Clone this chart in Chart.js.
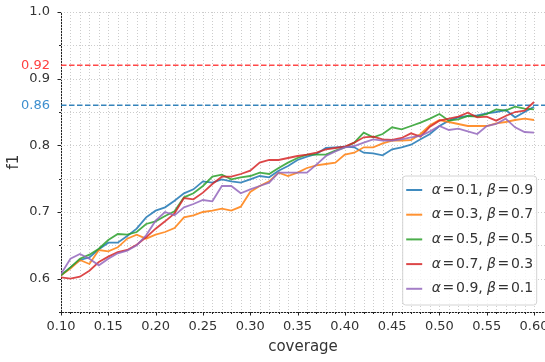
<!DOCTYPE html>
<html>
<head>
<meta charset="utf-8">
<script src="https://cdn.jsdelivr.net/npm/chart.js@4.4.1/dist/chart.umd.min.js"></script>
<style>
  html, body { margin: 0; padding: 0; background: #fff; }
</style>
</head>
<body>
<canvas id="f1Chart" width="545" height="362"></canvas>
<script>
// coverage steps (x) and f1 per (alpha, beta) setting
const coverage = [
  0.10, 0.11, 0.12, 0.13, 0.14, 0.15, 0.16, 0.17, 0.18, 0.19,
  0.20, 0.21, 0.22, 0.23, 0.24, 0.25, 0.26, 0.27, 0.28, 0.29,
  0.30, 0.31, 0.32, 0.33, 0.34, 0.35, 0.36, 0.37, 0.38, 0.39,
  0.40, 0.41, 0.42, 0.43, 0.44, 0.45, 0.46, 0.47, 0.48, 0.49,
  0.50, 0.51, 0.52, 0.53, 0.54, 0.55, 0.56, 0.57, 0.58, 0.59,
  0.60
];
const f1_a01 = [
  0.605, 0.617, 0.628, 0.632, 0.644, 0.654, 0.654, 0.664, 0.675, 0.692,
  0.702, 0.707, 0.717, 0.728, 0.734, 0.746, 0.744, 0.749, 0.746, 0.744,
  0.749, 0.754, 0.752, 0.762, 0.769, 0.778, 0.783, 0.787, 0.796, 0.797,
  0.798, 0.797, 0.789, 0.788, 0.785, 0.794, 0.797, 0.801, 0.809, 0.817,
  0.829, 0.837, 0.842, 0.844, 0.845, 0.848, 0.850, 0.853, 0.842, 0.850,
  0.858
];
const f1_a03 = [
  0.605, 0.615, 0.628, 0.622, 0.643, 0.641, 0.647, 0.660, 0.666, 0.660,
  0.666, 0.670, 0.676, 0.692, 0.695, 0.700, 0.702, 0.705, 0.702, 0.708,
  0.730, 0.739, 0.746, 0.759, 0.754, 0.759, 0.766, 0.770, 0.772, 0.774,
  0.786, 0.789, 0.797, 0.797, 0.803, 0.807, 0.807, 0.808, 0.817, 0.830,
  0.838, 0.835, 0.832, 0.829, 0.829, 0.829, 0.833, 0.835, 0.838, 0.840,
  0.838
];
const f1_a05 = [
  0.605, 0.617, 0.630, 0.636, 0.645, 0.658, 0.667, 0.666, 0.670, 0.682,
  0.686, 0.694, 0.701, 0.722, 0.728, 0.739, 0.753, 0.756, 0.749, 0.752,
  0.754, 0.759, 0.757, 0.766, 0.774, 0.781, 0.786, 0.786, 0.786, 0.792,
  0.797, 0.804, 0.819, 0.812, 0.817, 0.827, 0.824, 0.829, 0.834, 0.840,
  0.847, 0.837, 0.839, 0.844, 0.843, 0.847, 0.854, 0.852, 0.858, 0.855,
  0.854
];
const f1_a07 = [
  0.602, 0.600, 0.603, 0.612, 0.625, 0.633, 0.640, 0.643, 0.651, 0.662,
  0.675, 0.686, 0.698, 0.721, 0.719, 0.729, 0.742, 0.753, 0.753, 0.757,
  0.762, 0.774, 0.778, 0.778, 0.781, 0.784, 0.786, 0.789, 0.794, 0.796,
  0.798, 0.804, 0.812, 0.813, 0.809, 0.808, 0.811, 0.818, 0.813, 0.828,
  0.837, 0.840, 0.843, 0.849, 0.842, 0.843, 0.837, 0.844, 0.850, 0.852,
  0.865
];
const f1_a09 = [
  0.607, 0.630, 0.637, 0.630, 0.620, 0.630, 0.638, 0.642, 0.650, 0.665,
  0.687, 0.700, 0.695, 0.707, 0.712, 0.718, 0.716, 0.739, 0.739, 0.728,
  0.734, 0.739, 0.744, 0.759, 0.759, 0.759, 0.759, 0.771, 0.784, 0.791,
  0.797, 0.799, 0.804, 0.809, 0.807, 0.807, 0.809, 0.812, 0.814, 0.821,
  0.829, 0.823, 0.825, 0.821, 0.817, 0.829, 0.832, 0.840, 0.827, 0.820,
  0.819
];
const seriesLabels = ['α=0.1, β=0.9', 'α=0.3, β=0.7', 'α=0.5, β=0.5', 'α=0.7, β=0.3', 'α=0.9, β=0.1'];

// horizontal reference levels
const refLevels = [0.92, 0.86];

// tick positions
const xMajorTicks = [0.10, 0.15, 0.20, 0.25, 0.30, 0.35, 0.40, 0.45, 0.50, 0.55, 0.60];
const yMajorTicks = [0.6, 0.7, 0.8, 0.9, 1.0];
const yMinorTicks = [0.55, 0.65, 0.75, 0.85, 0.95];

const seriesColors = [
  'rgba(31,119,180,0.85)', 'rgba(255,127,14,0.85)', 'rgba(44,160,44,0.85)',
  'rgba(214,39,40,0.85)', 'rgba(148,103,189,0.85)'
];
const refColors = ['rgba(255,40,40,0.85)', 'rgba(31,119,180,0.9)'];
const refLabelColors = ['#ff4040', '#3d8fcf'];
const textColor = '#333';
const FONT = '"DejaVu Sans", "Liberation Sans", sans-serif';

const near = (a, b) => Math.abs(a - b) < 1e-6;
const isIn = (arr, v) => arr.some(m => near(m, v));

// dotted grid, reference lines and tick marks
const axisDecor = {
  id: 'axisDecor',
  beforeDatasetsDraw(chart) {
    const { ctx, chartArea: a, scales: { x, y } } = chart;
    ctx.save();
    ctx.lineWidth = 1;
    ctx.strokeStyle = '#cccccc';
    ctx.setLineDash([1, 2]);
    coverage.forEach(v => {
      const px = Math.round(x.getPixelForValue(v)) + 0.5;
      ctx.beginPath(); ctx.moveTo(px, a.top); ctx.lineTo(px, a.bottom); ctx.stroke();
    });
    yMajorTicks.concat(yMinorTicks).forEach(v => {
      const py = Math.round(y.getPixelForValue(v)) + 0.5;
      ctx.beginPath(); ctx.moveTo(a.left, py); ctx.lineTo(a.right, py); ctx.stroke();
    });
    ctx.lineWidth = 1.5;
    ctx.setLineDash([5.5, 2.5]);
    refLevels.forEach((v, i) => {
      const py = y.getPixelForValue(v);
      ctx.strokeStyle = refColors[i];
      ctx.beginPath(); ctx.moveTo(a.left, py); ctx.lineTo(a.right, py); ctx.stroke();
    });
    ctx.restore();
  },
  afterDraw(chart) {
    const { ctx, chartArea: a, scales: { x, y } } = chart;
    ctx.save();
    ctx.strokeStyle = '#222';
    ctx.lineWidth = 1;
    coverage.forEach(v => {
      const px = Math.round(x.getPixelForValue(v)) + 0.5;
      const len = isIn(xMajorTicks, v) ? 3.5 : 2;
      ctx.beginPath(); ctx.moveTo(px, a.bottom); ctx.lineTo(px, a.bottom + len); ctx.stroke();
    });
    yMajorTicks.concat(yMinorTicks).forEach(v => {
      const py = Math.round(y.getPixelForValue(v)) + 0.5;
      const len = isIn(yMajorTicks, v) ? 3.5 : 2;
      ctx.beginPath(); ctx.moveTo(a.left - len, py); ctx.lineTo(a.left, py); ctx.stroke();
    });
    ctx.restore();
  }
};

// legend box in the lower right corner of the plot
function drawMathLabel(ctx, text, x, y, fs) {
  const upright = fs + 'px ' + FONT;
  const italic = 'italic ' + fs + 'px ' + FONT;
  let cx = x;
  for (const ch of text) {
    if (ch === ' ') { cx += fs * 0.3; continue; }
    if (ch === '=') {
      cx += fs * 0.12;
      ctx.font = upright;
      ctx.fillText(ch, cx, y);
      cx += ctx.measureText(ch).width + fs * 0.12;
      continue;
    }
    ctx.font = /[α-ω]/.test(ch) ? italic : upright;
    ctx.fillText(ch, cx, y);
    cx += ctx.measureText(ch).width;
  }
}

const cornerLegend = {
  id: 'cornerLegend',
  afterDraw(chart) {
    const { ctx, chartArea: a } = chart;
    const sets = chart.data.datasets;
    const fs = 14, rowH = 24.7, boxW = 134, boxH = 129;
    const bx = a.right - 8.3 - boxW;
    const by = a.bottom - 7 - boxH;
    const r = 3;
    ctx.save();
    ctx.beginPath();
    ctx.moveTo(bx + r, by);
    ctx.arcTo(bx + boxW, by, bx + boxW, by + boxH, r);
    ctx.arcTo(bx + boxW, by + boxH, bx, by + boxH, r);
    ctx.arcTo(bx, by + boxH, bx, by, r);
    ctx.arcTo(bx, by, bx + boxW, by, r);
    ctx.closePath();
    ctx.fillStyle = 'rgba(255,255,255,0.8)';
    ctx.fill();
    ctx.strokeStyle = '#d4d4d4';
    ctx.lineWidth = 1;
    ctx.stroke();
    ctx.textBaseline = 'middle';
    ctx.fillStyle = textColor;
    sets.forEach((ds, i) => {
      const cy = by + 14 + i * rowH;
      ctx.strokeStyle = ds.borderColor;
      ctx.lineWidth = 2;
      ctx.beginPath(); ctx.moveTo(bx + 3.5, cy); ctx.lineTo(bx + 19.5, cy); ctx.stroke();
      ctx.fillStyle = textColor;
      drawMathLabel(ctx, ds.label, bx + 29, cy, fs);
    });
    ctx.restore();
  }
};

const allSeries = [f1_a01, f1_a03, f1_a05, f1_a07, f1_a09];
const datasets = allSeries.map((vals, i) => ({
  label: seriesLabels[i],
  data: vals.map((v, j) => ({ x: coverage[j], y: v })),
  borderColor: seriesColors[i],
  borderWidth: 1.8,
  pointRadius: 0,
  fill: false,
  tension: 0,
  order: allSeries.length - 1 - i
}));

new Chart(document.getElementById('f1Chart'), {
  type: 'line',
  data: { datasets },
  plugins: [axisDecor, cornerLegend],
  options: {
    responsive: false,
    animation: false,
    devicePixelRatio: 1,
    layout: { padding: { top: 12, right: 0, bottom: 0, left: 0 } },
    plugins: { legend: { display: false }, tooltip: { enabled: false } },
    scales: {
      x: {
        type: 'linear',
        min: 0.10,
        max: 0.6116,
        grid: { display: false, drawTicks: false },
        border: { display: true, color: '#222', width: 1 },
        afterBuildTicks: s => { s.ticks = coverage.map(v => ({ value: v })); },
        afterFit: s => { s.height = 50; s.paddingLeft = 0; s.paddingRight = 0; },
        ticks: {
          autoSkip: false,
          maxRotation: 0,
          padding: 7,
          color: textColor,
          font: { family: FONT, size: 13 },
          callback: v => isIn(xMajorTicks, v) ? v.toFixed(2) : ''
        },
        title: {
          display: true,
          text: 'coverage',
          color: textColor,
          font: { family: FONT, size: 15 },
          padding: { top: 0, bottom: 6 }
        }
      },
      y: {
        type: 'linear',
        min: 0.55,
        max: 1.0,
        grid: { display: false, drawTicks: false },
        border: { display: true, color: '#222', width: 1 },
        afterBuildTicks: s => {
          s.ticks = yMinorTicks.concat(yMajorTicks, refLevels)
            .sort((p, q) => p - q)
            .map(v => ({ value: v }));
        },
        afterFit: s => { s.width = 61; s.paddingTop = 0; s.paddingBottom = 0; },
        ticks: {
          autoSkip: false,
          padding: 11,
          font: { family: FONT, size: 13 },
          color: c => {
            const k = refLevels.findIndex(m => near(m, c.tick.value));
            return k >= 0 ? refLabelColors[k] : textColor;
          },
          callback: v => {
            if (isIn(refLevels, v)) return v.toFixed(2);
            if (isIn(yMajorTicks, v)) return v.toFixed(1);
            return '';
          }
        },
        title: {
          display: true,
          text: 'f1',
          color: textColor,
          font: { family: FONT, size: 15 },
          padding: { top: 5, bottom: 0 }
        }
      }
    }
  }
});
</script>
</body>
</html>
